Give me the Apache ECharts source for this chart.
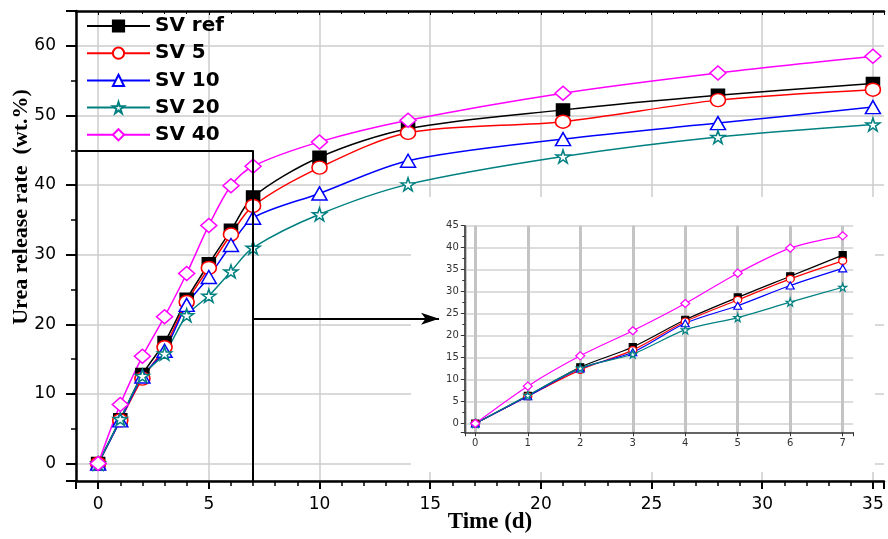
<!DOCTYPE html>
<html>
<head>
<meta charset="utf-8">
<script src="https://cdn.jsdelivr.net/npm/echarts@6/dist/echarts.min.js"></script>
<style>html,body{margin:0;padding:0;background:#fff}#c{width:888px;height:539px}</style>
</head>
<body>
<div id="c"></div>
<script>
// ---- data ----
const days = [0, 1, 2, 3, 4, 5, 6, 7, 10, 14, 21, 28, 35];
const svRef = [0, 6.3, 12.8, 17.4, 23.6, 28.7, 33.5, 38.3, 44.0, 48.1, 50.8, 52.9, 54.6];
const sv5   = [0, 6.2, 12.2, 16.7, 23.2, 28.1, 32.9, 37.0, 42.5, 47.5, 49.1, 52.2, 53.7];
const sv10  = [0, 6.2, 12.5, 16.2, 22.8, 26.8, 31.4, 35.3, 38.8, 43.5, 46.6, 48.9, 51.2];
const sv20  = [0, 6.4, 12.6, 15.8, 21.3, 24.1, 27.6, 31.0, 35.8, 40.1, 44.1, 46.9, 48.7];
const sv40  = [0, 8.5, 15.4, 21.1, 27.3, 34.2, 39.9, 42.7, 46.2, 49.3, 53.2, 56.1, 58.5];
const seriesNames = ['SV ref', 'SV 5', 'SV 10', 'SV 20', 'SV 40'];
const insetCount = 8; // inset shows days 0..7
// annotation (zoom box + arrow), in data units
const boxTopY = 45, boxRightX = 7, arrowY = 20.8, arrowEndX = 15.4;

const STAR = 'path://M50,0 L61,35 L98,35 L68,57 L79,91 L50,70 L21,91 L32,57 L2,35 L39,35 Z';
const styles = [
  {color: '#000000', symbol: 'rect', fill: '#000000', size: [13, 12], isize: [7, 7]},
  {color: '#ff0000', symbol: 'circle', fill: '#ffffff', size: [15, 13], isize: [8, 7]},
  {color: '#0000ff', symbol: 'triangle', fill: '#ffffff', size: [15, 13], isize: [8, 7]},
  {color: '#008080', symbol: STAR, fill: '#ffffff', size: [14, 13], isize: [8, 8]},
  {color: '#ff00ff', symbol: 'diamond', fill: '#ffffff', size: [16, 14], isize: [9, 8]}
];
const values = [svRef, sv5, sv10, sv20, sv40];

function pairs(vals, n) { return days.slice(0, n).map((d, i) => [d, vals[i]]); }

const series = [];
values.forEach((vals, k) => {
  const s = styles[k];
  const main = {
    name: seriesNames[k], type: 'line', xAxisIndex: 0, yAxisIndex: 0,
    data: pairs(vals, days.length), smooth: 0.3,
    symbol: s.symbol, symbolSize: s.size, showAllSymbol: true,
    color: s.color,
    lineStyle: {color: s.color, width: 1.5},
    itemStyle: {color: s.fill, borderColor: s.color, borderWidth: 1.5},
    z: 2
  };
  if (k === 0) {
    main.markLine = {
      silent: true, symbol: ['none', 'none'], animation: false,
      label: {show: false},
      lineStyle: {color: '#000', width: 2, type: 'solid'},
      data: [
        [{coord: [-1, boxTopY]}, {coord: [boxRightX, boxTopY]}],
        [{coord: [boxRightX, boxTopY]}, {coord: [boxRightX, -2.5]}],
        [{coord: [boxRightX, arrowY]}, {coord: [arrowEndX, arrowY], symbol: 'arrow', symbolSize: [9, 18]}]
      ]
    };
  }
  series.push(main);
  series.push({
    name: seriesNames[k], type: 'line', xAxisIndex: 2, yAxisIndex: 1,
    data: pairs(vals, insetCount), smooth: 0.3,
    symbol: s.symbol, symbolSize: s.isize, showAllSymbol: true,
    color: s.color,
    lineStyle: {color: s.color, width: 1.2},
    itemStyle: {color: s.fill, borderColor: s.color, borderWidth: 1.2},
    z: 6
  });
});

const chart = echarts.init(document.getElementById('c'), null, {renderer: 'canvas'});
chart.setOption({
  animation: false,
  backgroundColor: '#fff',
  grid: [
    {left: 76, top: 11, right: 4, bottom: 58},
    {left: 464.8, top: 225.7, width: 388.4, height: 206.6}
  ],
  legend: {
    data: seriesNames, orient: 'vertical', left: 81, top: 11,
    itemWidth: 63, itemHeight: 14, itemGap: 7.2,
    textStyle: {fontFamily: 'DejaVu Sans', fontWeight: 'bold', fontSize: 20, color: '#000'}
  },
  xAxis: [
    {
      gridIndex: 0, type: 'value', min: -1, max: 35.5, splitNumber: 7, position: 'bottom',
      axisLine: {show: true, onZero: false, lineStyle: {color: '#000', width: 2.5}},
      axisTick: {show: true, inside: false, length: 8, lineStyle: {color: '#000', width: 2}},
      minorTick: {show: true, splitNumber: 5, length: 5, lineStyle: {color: '#000', width: 1.5}},
      axisLabel: {margin: 15, fontFamily: 'DejaVu Sans', fontSize: 17, color: '#000',
        formatter: v => (Math.abs(v % 5) < 1e-9 ? String(v) : '')},
      splitLine: {show: true, showMaxLine: false, lineStyle: {color: '#cccccc', width: 1.5}}
    },
    {
      gridIndex: 0, type: 'value', min: -1, max: 35.5, splitNumber: 7, position: 'top',
      axisLine: {show: true, onZero: false, lineStyle: {color: '#000', width: 2.5}},
      axisTick: {show: true, inside: true, length: 4, lineStyle: {color: '#000', width: 1}},
      minorTick: {show: true, splitNumber: 5, length: 3, lineStyle: {color: '#000', width: 1}},
      axisLabel: {show: false}, splitLine: {show: false}
    },
    {
      gridIndex: 1, type: 'value', min: -0.2, max: 7.2, splitNumber: 8, z: 4,
      axisLine: {show: true, onZero: false, lineStyle: {color: '#333', width: 1.5}},
      axisTick: {show: true, length: 4, lineStyle: {color: '#333', width: 1}},
      axisLabel: {margin: 6, fontFamily: 'DejaVu Sans', fontSize: 10, color: '#333',
        formatter: v => (Math.abs(v - Math.round(v)) < 1e-9 ? String(v) : '')},
      splitLine: {show: true, showMinLine: true, showMaxLine: false, lineStyle: {color: '#c4c4c4', width: 3}}
    }
  ],
  yAxis: [
    {
      gridIndex: 0, type: 'value', min: -2.5, max: 65, splitNumber: 7,
      axisLine: {show: true, onZero: false, lineStyle: {color: '#000', width: 2.5}},
      axisTick: {show: true, length: 10, lineStyle: {color: '#000', width: 2}},
      minorTick: {show: true, splitNumber: 2, length: 5, lineStyle: {color: '#000', width: 1.5}},
      axisLabel: {margin: 20, fontFamily: 'DejaVu Sans', fontSize: 17, color: '#000',
        formatter: v => (Math.abs(v % 10) < 1e-9 ? String(v) : '')},
      splitLine: {show: true, showMaxLine: false, lineStyle: {color: '#cccccc', width: 1.5}}
    },
    {
      gridIndex: 1, type: 'value', min: -2, max: 45, splitNumber: 9, z: 4,
      axisLine: {show: true, onZero: false, lineStyle: {color: '#333', width: 1.5}},
      axisTick: {show: true, length: 4, lineStyle: {color: '#333', width: 1}},
      minorTick: {show: true, splitNumber: 2, length: 2.5, lineStyle: {color: '#333', width: 1}},
      axisLabel: {margin: 6, fontFamily: 'DejaVu Sans', fontSize: 10, color: '#333',
        formatter: v => (Math.abs(v % 5) < 1e-9 ? String(v) : '')},
      splitLine: {show: true, showMinLine: false, lineStyle: {color: '#dddddd', width: 2}}
    }
  ],
  graphic: [
    {type: 'rect', z: 1, silent: true, shape: {x: 411, y: 197, width: 464, height: 275}, style: {fill: '#ffffff'}},
    {type: 'text', z: 10, x: 490, y: 522, silent: true,
      style: {text: 'Time (d)', font: 'bold 23px "Liberation Serif"', fill: '#000', textAlign: 'center', textVerticalAlign: 'middle'}},
    {type: 'text', z: 10, x: 21, y: 207, rotation: Math.PI / 2, silent: true,
      style: {text: 'Urea release rate  (wt.%)', font: 'bold 22px "Liberation Serif"', fill: '#000', textAlign: 'center', textVerticalAlign: 'middle'}}
  ],
  series: series
});
</script>
</body>
</html>
